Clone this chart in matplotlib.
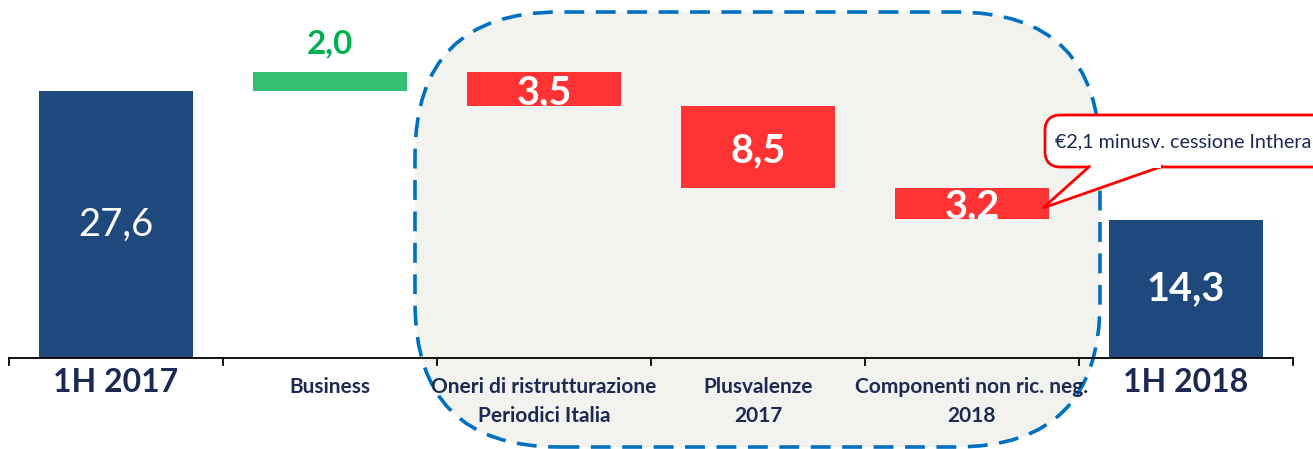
import numpy as np
import matplotlib.pyplot as plt
from matplotlib.patches import FancyBboxPatch, Polygon

plt.rcParams['font.family'] = ['Lato', 'DejaVu Sans']

categories = ['1H 2017', 'Business', 'Oneri di ristrutturazione\nPeriodici Italia',
              'Plusvalenze\n2017', 'Componenti non ric. neg.\n2018', '1H 2018']
start_value = 27.6
deltas = [2.0, -3.5, -8.5, -3.2]
end_value = 14.3
value_labels = ['27,6', '2,0', '3,5', '8,5', '3,2', '14,3']
note_text = '€2,1 minusv. cessione Inthera'

navy = '#1F497D'
green = '#33BF72'
red = '#FF3333'
text_navy = '#1C2A52'

W, H = 1313, 449
fig = plt.figure(figsize=(W / 100, H / 100), dpi=100)
ax = fig.add_axes([0, 0, 1, 1])
ax.set_xlim(-116 / 214, (W - 116) / 214)
ax.set_ylim(-91 / 9.67, (H - 91) / 9.67)
ax.axis('off')

# highlighted box (pixel coords)
box = FancyBboxPatch((415 / W, 1 - 447 / H), 685 / W, 435 / H,
                     boxstyle='round,pad=0,rounding_size=0.11',
                     mutation_aspect=W / H,
                     transform=fig.transFigure, facecolor='#F2F2EE',
                     edgecolor='#0070C0', lw=2.6, linestyle=(0, (5.5, 3.2)), zorder=0)
ax.add_patch(box)

x = np.arange(len(categories))
width = 0.715

# waterfall bars
cum = start_value
ax.bar(x[0], start_value, width, color=navy, zorder=2)
for i, d in enumerate(deltas, start=1):
    bottom = cum if d > 0 else cum + d
    ax.bar(x[i], abs(d), width, bottom=bottom, color=green if d > 0 else red, zorder=2)
    cum += d
ax.bar(x[-1], end_value, width, color=navy, zorder=2)

# value labels
ax.text(x[0], start_value / 2, value_labels[0], color='white', fontsize=27.5,
        ha='center', va='center', zorder=3)
ax.text(x[-1], end_value / 2, value_labels[-1], color='white', fontsize=28.5,
        fontweight='bold', ha='center', va='center', zorder=3)
cum = start_value
for i, d in enumerate(deltas, start=1):
    if d > 0:
        ax.text(x[i], cum + d + 1.4, value_labels[i], color='#00B050', fontsize=24,
                fontweight='bold', ha='center', va='bottom', zorder=3)
    else:
        ax.text(x[i], cum + d / 2 - 0.4, value_labels[i], color='white', fontsize=28.5,
                fontweight='bold', ha='center', va='center', zorder=3)
    cum += d

# axis line with ticks
ax.plot([-0.5, 5.5], [0, 0], color='black', lw=1.3, zorder=4)
for b in np.arange(-0.5, 5.6, 1):
    ax.plot([b, b], [0, -0.75], color='black', lw=1.3, zorder=4)

# category labels
for i, c in enumerate(categories):
    if i in (0, len(categories) - 1):
        ax.text(x[i], -1.0, c, color=text_navy, fontsize=23, fontweight='bold',
                ha='center', va='top', zorder=3)
    else:
        ax.text(x[i], -2.0, c, color=text_navy, fontsize=15, fontweight='bold',
                ha='center', va='top', linespacing=1.55, zorder=3)

# callout
cbox = FancyBboxPatch((1045 / W, 1 - 167 / H), 300 / W, 52 / H,
                      boxstyle='round,pad=0,rounding_size=0.012',
                      mutation_aspect=W / H, transform=fig.transFigure,
                      facecolor='white', edgecolor='#FF0000', lw=2, zorder=5)
fig.add_artist(cbox)
ptr = [(1090 / W, 1 - 166 / H), (1043 / W, 1 - 208 / H), (1163 / W, 1 - 166 / H)]
fig.add_artist(Polygon(ptr, closed=False, facecolor='white', edgecolor='#FF0000',
                       lw=2, transform=fig.transFigure, zorder=6))
fig.add_artist(Polygon([(1092 / W, 1 - 165 / H), (1161 / W, 1 - 165 / H),
                        (1161 / W, 1 - 168 / H), (1092 / W, 1 - 168 / H)],
                       facecolor='white', edgecolor='none',
                       transform=fig.transFigure, zorder=7))
fig.text(1055 / W, 1 - 142 / H, note_text, color=text_navy, fontsize=14.2,
         ha='left', va='center', zorder=8)

fig.savefig('out.png', dpi=100)
